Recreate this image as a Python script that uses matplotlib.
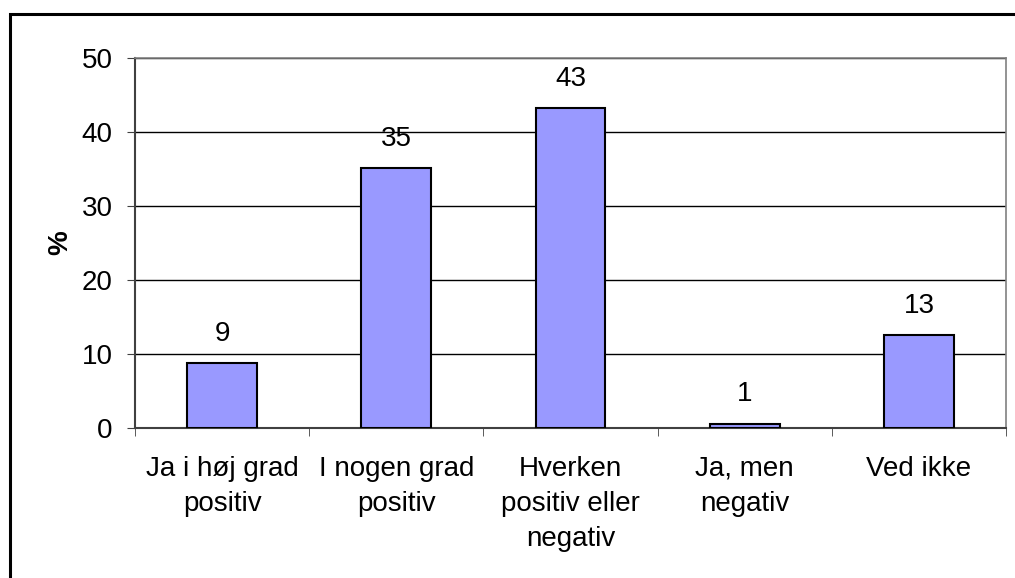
import matplotlib
matplotlib.use("Agg")
from matplotlib import pyplot as plt
from matplotlib.patches import Rectangle
import numpy as np

plt.rcParams['font.family'] = ['Liberation Sans', 'DejaVu Sans']

categories = ["Ja i høj grad\npositiv", "I nogen grad\npositiv",
              "Hverken\npositiv eller\nnegativ", "Ja, men\nnegativ", "Ved ikke"]
values = [8.8, 35.1, 43.2, 0.6, 12.6]
yticks = [0, 10, 20, 30, 40, 50]

fig = plt.figure(figsize=(10.15, 5.78), dpi=100)
ax = fig.add_axes([135/1015, 150/578, 871/1015, 370/578])

x = np.arange(len(categories))
ax.bar(x, values, width=0.4, color='#9999ff', edgecolor='black', linewidth=1.5, zorder=3)

for xi, v in zip(x, values):
    ax.annotate('%.0f' % v, (xi, v), xytext=(0, 21), textcoords='offset points',
                ha='center', va='center', fontsize=20)

ax.set_xlim(-0.5, len(categories) - 0.5)
ax.set_ylim(0, 50)
ax.set_yticks(yticks)
ax.yaxis.grid(True, color='black', linewidth=1, zorder=0)

# category boundaries carry the tick marks, labels sit between them
ax.set_xticks(x)
ax.set_xticklabels(categories, fontsize=20, linespacing=1.45)
ax.set_xticks(np.arange(len(categories) + 1) - 0.5, minor=True)
ax.tick_params(axis='x', which='major', length=0, pad=20)
ax.tick_params(axis='x', which='minor', length=6, direction='out', color='#404040')
ax.tick_params(axis='y', length=6, direction='out', color='#404040', labelsize=20, pad=10)

for side in ['top', 'right']:
    ax.spines[side].set_color('#808080')
    ax.spines[side].set_linewidth(1.2)
for side in ['left', 'bottom']:
    ax.spines[side].set_color('#404040')
    ax.spines[side].set_linewidth(1.5)

ax.set_ylabel('%', fontsize=20, fontweight='bold')
ax.yaxis.set_label_coords(-0.071, 0.5)

# chart border running off the page
fig.patches.append(Rectangle((9.5/1015, -0.2), 1.2, 1 - 14/578 + 0.2,
                             transform=fig.transFigure, fill=False,
                             edgecolor='black', linewidth=2.2))

plt.savefig('out.png', dpi=100)
